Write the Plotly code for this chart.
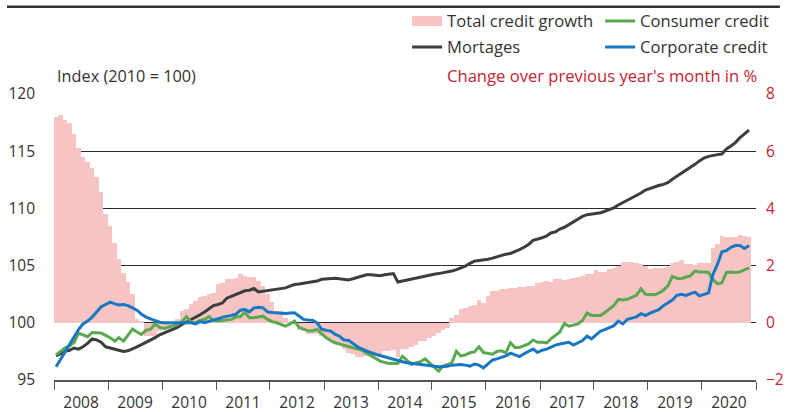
import pandas as pd
import plotly.graph_objects as go

# ---------------- data (monthly, Jan 2008 - Nov 2020) ----------------
total_growth = [
    7.18, 7.26, 7.09, 6.98, 6.59, 6.12, 5.78, 5.62, 5.42, 5.11, 4.58, 3.79,      # 2008
    3.38, 2.78, 2.22, 1.73, 1.43, 0.99, 0.15, 0.05, -0.45, -0.47, -0.45, -0.30,  # 2009
    -0.20, -0.15, -0.05, 0.15, 0.40, 0.50, 0.65, 0.76, 0.90, 0.95, 1.00, 1.05,   # 2010
    1.34, 1.40, 1.52, 1.52, 1.55, 1.69, 1.65, 1.60, 1.60, 1.45, 1.30, 1.00,      # 2011
    0.72, 0.40, 0.40, 0.17, 0.05, -0.05, -0.25, -0.30, -0.40, -0.40, -0.40, -0.45,  # 2012
    -0.52, -0.55, -0.70, -0.72, -0.93, -1.05, -1.10, -1.19, -1.19, -1.15, -1.15, -1.10,  # 2013
    -1.10, -1.00, -1.00, -0.95, -1.20, -0.93, -0.93, -0.84, -0.76, -0.64, -0.64, -0.53,  # 2014
    -0.47, -0.35, -0.25, -0.18, 0.18, 0.29, 0.47, 0.53, 0.58, 0.64, 0.79, 0.70,  # 2015
    0.93, 1.10, 1.12, 1.17, 1.17, 1.22, 1.22, 1.24, 1.26, 1.30, 1.28, 1.38,      # 2016
    1.42, 1.46, 1.44, 1.52, 1.52, 1.50, 1.52, 1.58, 1.60, 1.62, 1.69, 1.70,      # 2017
    1.84, 1.78, 1.76, 1.89, 1.90, 1.98, 2.13, 2.13, 2.12, 2.08, 2.07, 1.98,      # 2018
    1.87, 1.93, 1.93, 1.93, 1.96, 2.10, 2.12, 2.18, 2.05, 2.06, 2.02, 2.08,      # 2019
    2.08, 2.08, 2.60, 2.74, 3.03, 3.00, 3.00, 3.00, 3.06, 3.02, 3.00,            # 2020
]

mortgages = [
    97.10, 97.30, 97.50, 97.60, 97.80, 97.70, 97.90, 98.20, 98.60, 98.50, 98.30, 97.90,
    97.80, 97.70, 97.60, 97.50, 97.55, 97.70, 97.90, 98.10, 98.30, 98.45, 98.70, 98.95,
    99.10, 99.25, 99.45, 99.60, 99.85, 100.05, 100.30, 100.50, 100.70, 100.95, 101.20, 101.50,
    101.60, 101.75, 102.15, 102.30, 102.50, 102.65, 102.80, 102.85, 103.00, 102.70, 102.75, 102.85,
    102.90, 102.90, 103.00, 103.05, 103.20, 103.35, 103.40, 103.45, 103.50, 103.55, 103.65, 103.80,
    103.85, 103.85, 103.90, 103.85, 103.80, 103.75, 103.85, 103.95, 104.10, 104.20, 104.20, 104.15,
    104.12, 104.20, 104.25, 104.30, 103.56, 103.65, 103.73, 103.85, 103.95, 104.00, 104.10, 104.20,
    104.25, 104.30, 104.35, 104.45, 104.52, 104.65, 104.80, 104.96, 105.20, 105.39, 105.45, 105.48,
    105.55, 105.65, 105.77, 105.85, 106.00, 106.06, 106.20, 106.40, 106.60, 106.85, 107.20, 107.30,
    107.43, 107.60, 107.85, 107.95, 108.20, 108.35, 108.60, 108.85, 109.10, 109.30, 109.45, 109.50,
    109.55, 109.62, 109.75, 109.90, 110.05, 110.30, 110.50, 110.70, 110.95, 111.14, 111.35, 111.60,
    111.75, 111.90, 112.00, 112.10, 112.25, 112.55, 112.80, 113.05, 113.30, 113.56, 113.85, 114.15,
    114.40, 114.55, 114.64, 114.70, 114.75, 115.20, 115.45, 115.75, 116.20, 116.50, 116.85,
]

consumer = [
    97.20, 97.50, 97.80, 98.00, 98.25, 99.10, 98.95, 98.78, 99.15, 99.15, 99.10, 98.90,
    98.70, 98.40, 98.70, 98.40, 98.90, 99.45, 99.20, 98.98, 99.35, 99.42, 99.90, 99.60,
    99.50, 99.60, 99.75, 99.85, 100.10, 100.55, 100.05, 100.00, 100.20, 100.30, 100.55, 100.20,
    100.15, 100.20, 100.25, 100.30, 100.50, 100.55, 100.90, 100.45, 100.45, 100.50, 100.58, 100.30,
    100.10, 100.00, 99.85, 99.70, 99.90, 100.15, 99.60, 99.45, 99.30, 99.30, 99.42, 99.05,
    98.70, 98.45, 98.25, 98.15, 98.05, 97.96, 97.85, 97.70, 97.60, 97.35, 97.15, 96.90,
    96.65, 96.55, 96.45, 96.44, 96.45, 97.08, 96.70, 96.36, 96.50, 96.60, 96.85, 96.50,
    96.10, 95.77, 96.20, 96.35, 96.50, 97.52, 97.10, 97.20, 97.38, 97.45, 97.90, 97.40,
    97.35, 97.25, 97.50, 97.55, 97.38, 98.25, 97.85, 97.85, 98.00, 98.15, 98.50, 98.30,
    98.30, 98.25, 98.60, 98.90, 99.20, 99.95, 99.70, 99.80, 99.90, 100.20, 100.85, 100.64,
    100.65, 100.64, 100.90, 101.20, 101.50, 102.05, 102.00, 102.05, 102.25, 102.40, 102.97, 102.50,
    102.48, 102.45, 102.60, 102.85, 103.20, 104.05, 103.90, 103.85, 104.00, 104.10, 104.52, 104.45,
    104.45, 104.40, 103.80, 103.40, 103.50, 104.40, 104.43, 104.40, 104.45, 104.60, 104.80,
]

corporate = [
    96.15, 96.80, 97.40, 98.10, 98.70, 99.40, 99.90, 100.15, 100.50, 100.90, 101.40, 101.60,
    101.80, 101.65, 101.55, 101.60, 101.50, 101.30, 101.10, 100.75, 100.50, 100.35, 100.20, 100.05,
    100.00, 100.00, 100.00, 100.00, 100.05, 100.05, 100.00, 99.90, 100.10, 100.00, 100.10, 100.25,
    100.35, 100.50, 100.55, 100.65, 100.75, 101.10, 101.17, 100.95, 101.30, 101.35, 101.30, 100.95,
    100.90, 100.87, 100.85, 100.82, 100.85, 100.87, 100.60, 100.30, 100.25, 100.22, 100.00, 99.45,
    99.35, 99.27, 99.00, 98.83, 98.50, 98.48, 98.20, 97.90, 97.70, 97.52, 97.40, 97.25,
    97.15, 97.00, 96.94, 96.85, 96.73, 96.60, 96.50, 96.45, 96.38, 96.32, 96.30, 96.25,
    96.20, 96.15, 96.18, 96.20, 96.30, 96.35, 96.36, 96.30, 96.20, 96.40, 96.30, 96.06,
    96.40, 96.75, 96.85, 97.00, 97.10, 97.35, 97.20, 97.05, 97.30, 97.50, 97.70, 97.40,
    97.60, 97.70, 97.90, 98.05, 98.15, 98.25, 98.30, 98.05, 98.25, 98.45, 98.83, 98.60,
    98.95, 99.27, 99.40, 99.55, 99.75, 100.15, 99.90, 100.30, 100.40, 100.52, 100.80, 100.64,
    100.85, 101.00, 101.15, 101.50, 101.75, 101.98, 102.40, 102.50, 102.39, 102.55, 102.68, 102.35,
    102.50, 102.62, 104.20, 105.10, 106.20, 106.30, 106.60, 106.75, 106.75, 106.50, 106.75,
]

left_ticks = [95, 100, 105, 110, 115, 120]
right_ticks = [-2, 0, 2, 4, 6, 8]

months = pd.date_range("2008-01-01", periods=len(total_growth), freq="MS") + pd.Timedelta(days=14)

# ---------------- styling ----------------
PINK = "#f6c4c3"
GREY = "#3d3d3d"
GREEN = "#5aa84f"
BLUE = "#1877c2"
RED = "#c62332"
TXT = "#333333"
FONT = "Open Sans"
FS_TICK = 15.5
FS_TEXT = 16.6

fig = go.Figure()

month_ms = 31 * 24 * 3600 * 1000

# bars live on the primary (right-hand, %) axis so that the index lines and
# grid of the overlaying left axis are drawn on top of them
fig.add_trace(go.Bar(
    x=months, y=total_growth, yaxis="y", name="Total credit growth",
    marker=dict(color=PINK, line=dict(width=0)), width=month_ms,
    showlegend=False, hoverinfo="skip",
))
# legend key for the bars (wide pink swatch)
fig.add_trace(go.Scatter(
    x=[None], y=[None], yaxis="y", name="Total credit growth", mode="lines",
    line=dict(color=PINK, width=12), legend="legend", showlegend=True,
))
fig.add_trace(go.Scatter(
    x=months, y=mortgages, yaxis="y2", name="Mortages", mode="lines",
    line=dict(color=GREY, width=3), legend="legend2",
))
fig.add_trace(go.Scatter(
    x=months, y=consumer, yaxis="y2", name="Consumer credit", mode="lines",
    line=dict(color=GREEN, width=3), legend="legend",
))
fig.add_trace(go.Scatter(
    x=months, y=corporate, yaxis="y2", name="Corporate credit", mode="lines",
    line=dict(color=BLUE, width=3), legend="legend2",
))

fig.update_layout(
    width=787, height=412,
    margin=dict(l=54, r=31, t=94, b=32, autoexpand=False),
    paper_bgcolor="white", plot_bgcolor="white",
    font=dict(family=FONT, size=FS_TICK, color=TXT),
    bargap=0, barmode="overlay",
    showlegend=True,
    xaxis=dict(
        type="date", range=["2008-01-01", "2021-01-01"], automargin=False,
        dtick="M12", tick0="2008-01-01", tickformat="%Y", ticklabelmode="period",
        ticks="outside", ticklen=8, tickwidth=1, tickcolor="#555555",
        showline=True, linecolor="#555555", linewidth=1.5,
        showgrid=False, zeroline=False, ticklabelstandoff=0,
        tickfont=dict(size=FS_TICK, color=TXT),
    ),
    yaxis=dict(
        range=[-2, 8], tickvals=right_ticks, automargin=False,
        side="right", showgrid=False, zeroline=False,
        showline=False, ticks="", ticklabelstandoff=9,
        tickfont=dict(size=FS_TICK, color=RED),
    ),
    yaxis2=dict(
        range=[95, 120], tickvals=left_ticks, automargin=False,
        overlaying="y", side="left",
        showgrid=True, gridcolor="#2a2a2a", gridwidth=1,
        zeroline=False, showline=False, ticks="",
        ticklabelstandoff=18, tickfont=dict(size=FS_TICK, color=TXT),
    ),
    legend=dict(
        orientation="h", x=0.503, xanchor="left", y=1.316, yanchor="top",
        entrywidth=148, font=dict(size=FS_TEXT, color=TXT), bgcolor="rgba(0,0,0,0)",
        traceorder="normal", itemwidth=30,
    ),
    legend2=dict(
        orientation="h", x=0.503, xanchor="left", y=1.225, yanchor="top",
        entrywidth=148, font=dict(size=FS_TEXT, color=TXT), bgcolor="rgba(0,0,0,0)",
        traceorder="normal", itemwidth=30,
    ),
    annotations=[
        dict(text="Index (2010 = 100)", xref="paper", yref="paper", x=0.002, y=1.063,
             xanchor="left", yanchor="middle", showarrow=False,
             font=dict(size=FS_TEXT - 0.3, color=TXT)),
        dict(text="Change over previous year's month in %", xref="paper", yref="paper",
             x=1.0045, y=1.063, xanchor="right", yanchor="middle", showarrow=False,
             font=dict(size=FS_TEXT, color=RED)),
    ],
    shapes=[
        dict(type="line", xref="paper", yref="paper", x0=-0.067, x1=1.034,
             y0=1.305, y1=1.305, line=dict(color="#2f2f2f", width=2.5)),
    ],
)

fig.write_html(
    "out.html",
    config={"displayModeBar": False},
    post_script="document.body.style.margin='0px';document.body.style.padding='0px';",
)
